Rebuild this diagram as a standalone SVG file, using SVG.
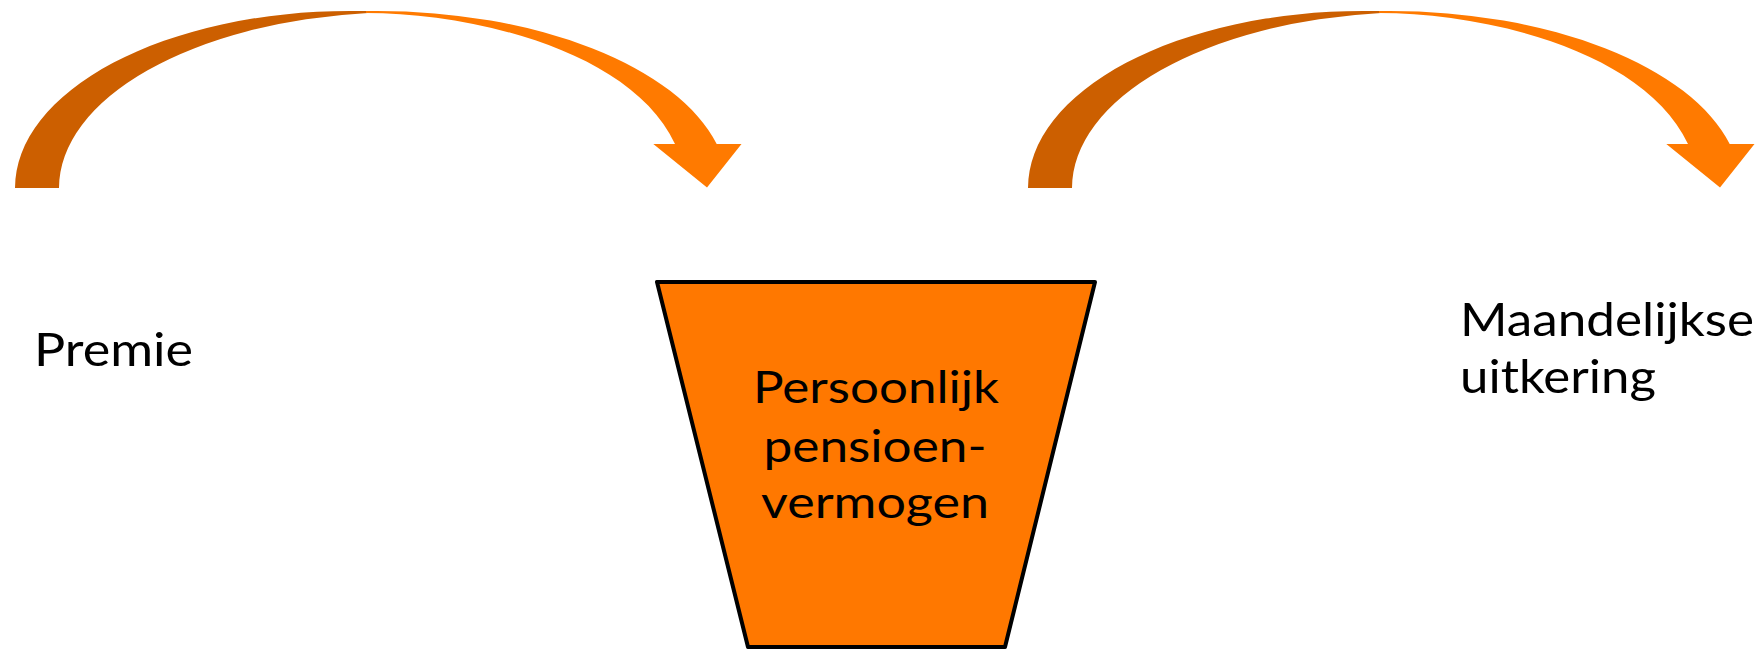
<svg xmlns="http://www.w3.org/2000/svg" width="1761" height="649" viewBox="0 0 1761 649">
<style>
.back{fill:#CC5F00;}
.front{fill:#FF7A00;}
.txt{font-family:Lato,"Open Sans","Liberation Sans",sans-serif;font-weight:400;fill:#000;}
.side{font-size:47px;}
.inner{font-size:44px;}
.pot{fill:#FF7800;stroke:#000;stroke-width:4;stroke-linejoin:round;}
</style>
<defs>
  <g id="curved-arrow">
    <path class="back" d="M15,188 A335,177 0 0 1 350,11 L368,11 L368,13 A345,176 0 0 0 59,188 Z"/>
    <path class="front" d="M366,11 L377,11 A351,177 0 0 1 716.7,144 L741.5,144 L707,187.5 L653.3,144 L675,144 C632.7,52.7 477,13 366,13 Z"/>
  </g>
</defs>
<rect width="1761" height="649" fill="#fff"/>
<g id="connectors">
  <use id="arrow-premie" href="#curved-arrow"/>
  <use id="arrow-uitkering" href="#curved-arrow" transform="translate(1013,0)"/>
</g>
<g id="node-premie">
  <text class="txt side" x="34" y="366" textLength="159" lengthAdjust="spacingAndGlyphs">Premie</text>
</g>
<g id="node-vermogen">
  <polygon class="pot" points="657,282 1095,282 1005,647 748,647"/>
  <text class="txt inner" x="876" y="403" text-anchor="middle" textLength="246" lengthAdjust="spacingAndGlyphs">Persoonlijk</text>
  <text class="txt inner" x="875" y="462" text-anchor="middle" textLength="223" lengthAdjust="spacingAndGlyphs">pensioen-</text>
  <text class="txt inner" x="875" y="518" text-anchor="middle" textLength="228" lengthAdjust="spacingAndGlyphs">vermogen</text>
</g>
<g id="node-uitkering">
  <text class="txt side" x="1460" y="336" textLength="294" lengthAdjust="spacingAndGlyphs">Maandelijkse</text>
  <text class="txt side" x="1460" y="393" textLength="196" lengthAdjust="spacingAndGlyphs">uitkering</text>
</g>
</svg>
